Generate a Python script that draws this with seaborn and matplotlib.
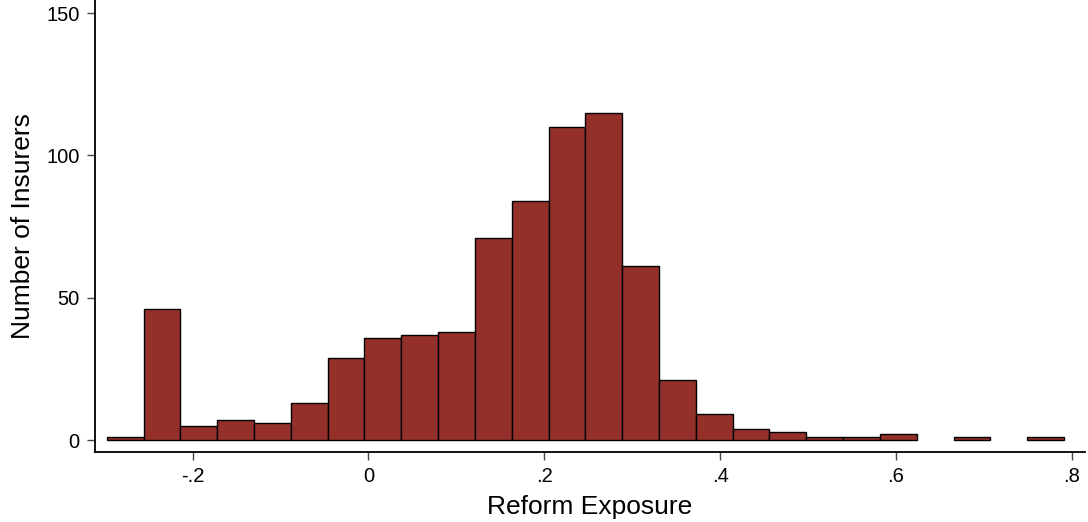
import numpy as np
import pandas as pd
import matplotlib
matplotlib.use("Agg")
import matplotlib.pyplot as plt
import seaborn as sns

# Histogram of reform exposure across insurers (bin counts)
bin_start = -0.2977
bin_width = 0.04188
counts = [1, 46, 5, 7, 6, 13, 29, 36, 37, 38, 71, 84, 110, 115, 61, 21, 9, 4, 3, 1, 1, 2, 0, 1, 0, 1]
x_ticks = [-0.2, 0.0, 0.2, 0.4, 0.6, 0.8]
x_tick_labels = ["-.2", "0", ".2", ".4", ".6", ".8"]
y_ticks = [0, 50, 100, 150]

n_bins = len(counts)
bin_end = bin_start + bin_width * n_bins
centers = bin_start + bin_width * (np.arange(n_bins) + 0.5)
df = pd.DataFrame({"exposure": centers, "n": counts})

sns.set_style("ticks")
plt.rcParams["font.family"] = ["Liberation Sans", "DejaVu Sans"]
plt.rcParams["text.color"] = "black"
plt.rcParams["axes.labelcolor"] = "black"
plt.rcParams["xtick.labelcolor"] = "black"
plt.rcParams["ytick.labelcolor"] = "black"

fig = plt.figure(figsize=(10.88, 5.22), dpi=100)
ax = fig.add_axes([95 / 1088, 70 / 522, 990 / 1088, 452 / 522])

sns.histplot(data=df, x="exposure", weights="n", bins=n_bins,
             binrange=(bin_start, bin_end), ax=ax,
             color="#94302a", alpha=1.0, edgecolor="black", linewidth=1.0)

# empty bins are left blank rather than drawn as flat outlines
for patch in ax.patches:
    if patch.get_height() == 0:
        patch.set_visible(False)

ax.set_xlim(-0.311, 0.815)
ax.set_ylim(-4.2, 154.6)
ax.set_xticks(x_ticks)
ax.set_xticklabels(x_tick_labels)
ax.set_yticks(y_ticks)
ax.tick_params(axis="both", labelsize=14.5, length=6, width=1, color="#444444", pad=5)
ax.set_xlabel("Reform Exposure", fontsize=19, labelpad=6)
ax.set_ylabel("Number of Insurers", fontsize=19, labelpad=8)
sns.despine(ax=ax)
for side in ("left", "bottom"):
    ax.spines[side].set_linewidth(1.3)
    ax.spines[side].set_color("black")

fig.savefig("out.png", dpi=100)
